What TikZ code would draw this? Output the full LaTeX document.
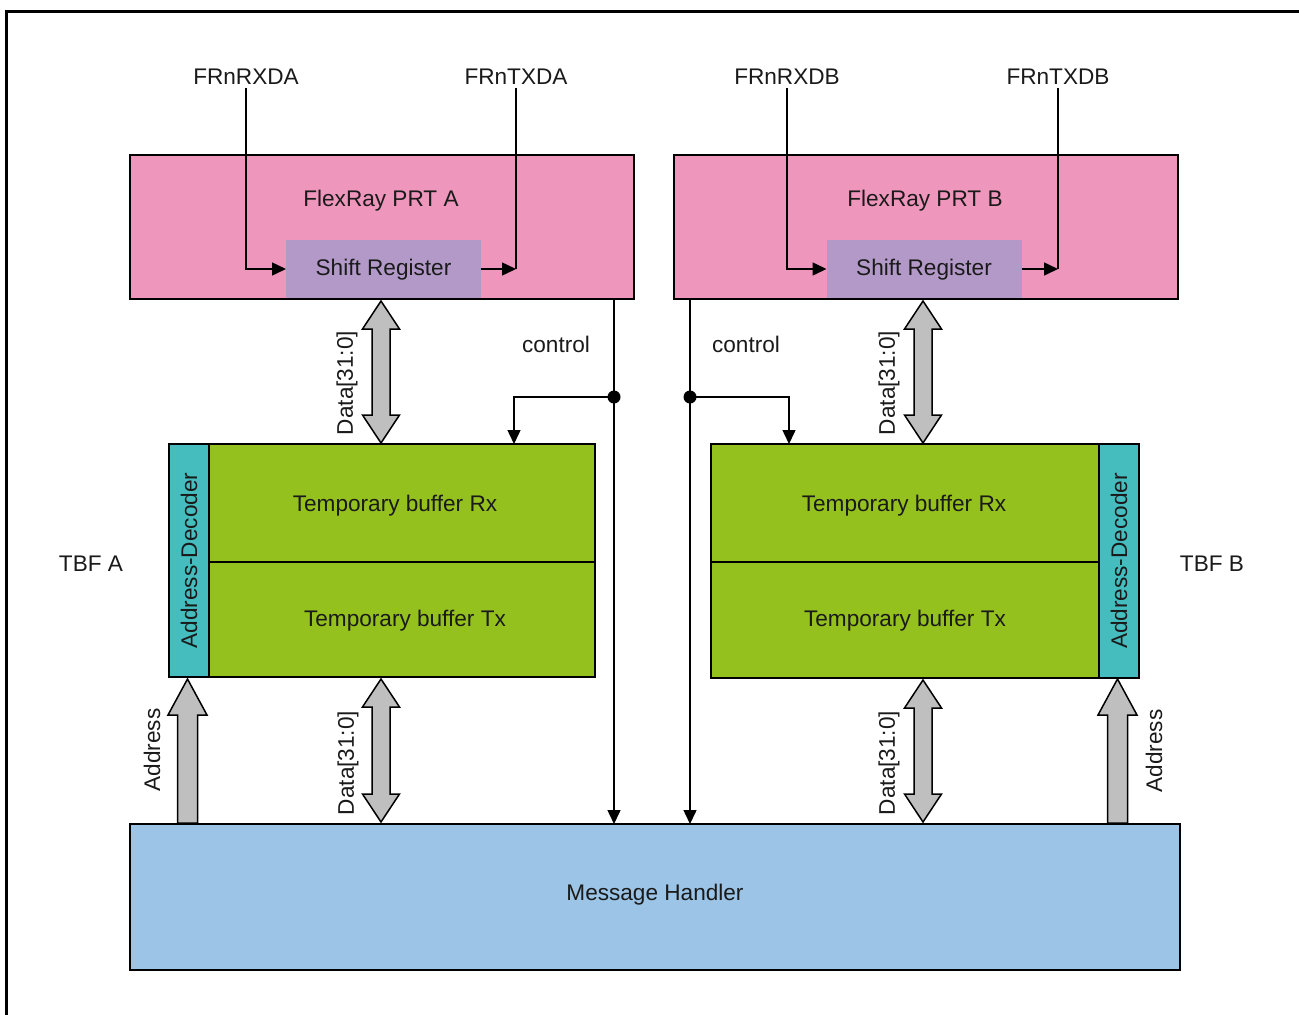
\documentclass[tikz,border=0pt]{standalone}
\usepackage{fontspec}
\setmainfont{Liberation Sans}
\usetikzlibrary{arrows.meta}
\definecolor{prtpink}{RGB}{239,150,189}
\definecolor{srpurple}{RGB}{179,153,200}
\definecolor{tbgreen}{RGB}{149,193,31}
\definecolor{decteal}{RGB}{69,189,190}
\definecolor{mhblue}{RGB}{155,196,230}
\definecolor{arrgray}{RGB}{191,191,191}
\definecolor{txtc}{RGB}{26,26,26}
\newcommand\mydblarrow[3]{%
  \draw[busarr] ({#1-9},{#2+28}) -- ({#1-18.5},{#2+28}) -- (#1,#2) -- ({#1+18.5},{#2+28}) -- ({#1+9},{#2+28})
    -- ({#1+9},{#3-28}) -- ({#1+18.5},{#3-28}) -- (#1,#3) -- ({#1-18.5},{#3-28}) -- ({#1-9},{#3-28}) -- cycle;}
\newcommand\myuparrow[3]{%
  \draw[busarr] ({#1-10},#3) -- ({#1-10},{#2+36}) -- ({#1-19.5},{#2+36}) -- (#1,#2) -- ({#1+19.5},{#2+36}) -- ({#1+10},{#2+36}) -- ({#1+10},#3) -- cycle;}
\begin{document}
\begin{tikzpicture}[x=1pt,y=-1pt,
  txt/.style={font=\fontsize{22.6}{27}\selectfont, text=txtc, inner sep=4pt},
  htxt/.style={txt, yshift=-0.5pt},
  box/.style={draw=black, line width=2.8pt, inner sep=0pt, outer sep=0pt},
  fillbox/.style={inner sep=0pt, outer sep=0pt},
  srbox/.style={fill=srpurple, minimum width=195, minimum height=58, inner sep=0pt, outer sep=0pt},
  sig/.style={line width=1.5pt, draw=black},
  tip/.style={-{Triangle[length=14pt,width=13pt]}},
  busarr/.style={fill=arrgray, draw=black, line width=1.5pt, line join=miter}
]
\useasboundingbox (0,0) rectangle (1299,1015);
% frame
\draw[line width=2.5pt] (6.5,1015) -- (6.5,11.5) -- (1299,11.5);

% PRT A
\node[fillbox, fill=prtpink, minimum width=504, minimum height=144] (prtA) at (382,227) {};
\node[srbox] (srA) at (383.5,269) {};
\node[htxt] at (srA.center) {Shift Register};
\draw[line width=2.8pt] (prtA.south west) rectangle (prtA.north east);
\node[htxt] (prtAt) at (381,200) {FlexRay PRT A};
% PRT B
\node[fillbox, fill=prtpink, minimum width=504, minimum height=144] (prtB) at (926,227) {};
\node[srbox] (srB) at (924,269) {};
\node[htxt] at (srB.center) {Shift Register};
\draw[line width=2.8pt] (prtB.south west) rectangle (prtB.north east);
\node[htxt] (prtBt) at (925,200) {FlexRay PRT B};

% pin labels
\node[htxt] (rxA) at (246,76) {FRnRXDA};
\node[htxt] (txA) at (516,76) {FRnTXDA};
\node[htxt] (rxB) at (787,76) {FRnRXDB};
\node[htxt] (txB) at (1058,76) {FRnTXDB};

\draw[sig,tip] (rxA.south) |- (srA.west);
\draw[sig,tip] (srA.east) -- (txA.south |- srA.east) coordinate (txAc);
\draw[sig] (txAc) -- (txA.south);
\draw[sig,tip] (rxB.south) |- (srB.west);
\draw[sig,tip] (srB.east) -- (txB.south |- srB.east) coordinate (txBc);
\draw[sig] (txBc) -- (txB.south);

% Temporary buffers A
\node[box, fill=tbgreen, minimum width=386, minimum height=118] (rxbufA) at (402,503) {};
\node[box, fill=tbgreen, minimum width=386, minimum height=115] (txbufA) at (402,619.5) {};
\node[box, fill=decteal, minimum width=40, minimum height=233] (decA) at (189,560.5) {};
\node[txt, rotate=90] at (decA.center) {Address-Decoder};
\node[htxt] at (395,505) {Temporary buffer Rx};
\node[htxt] at (405,620) {Temporary buffer Tx};
\node[htxt] (tbfA) at (91,563) {TBF A};

% Temporary buffers B
\node[box, fill=tbgreen, minimum width=388, minimum height=118] (rxbufB) at (905,503) {};
\node[box, fill=tbgreen, minimum width=388, minimum height=116] (txbufB) at (905,620) {};
\node[box, fill=decteal, minimum width=40, minimum height=234] (decB) at (1119,561) {};
\node[txt, rotate=90] at (decB.center) {Address-Decoder};
\node[htxt] at (904,505) {Temporary buffer Rx};
\node[htxt] at (905,620) {Temporary buffer Tx};
\node[htxt] (tbfB) at (1212,563) {TBF B};

% Message handler
\node[box, fill=mhblue, minimum width=1050, minimum height=146] (mh) at (655,897) {};
\node[htxt] at (655,894) {Message Handler};

% control lines
\coordinate (cA0) at (614,299);
\coordinate (dotA) at (614,397);
\draw[sig,tip] (cA0) -- (cA0 |- mh.north);
\fill (dotA) circle (6.5);
\draw[sig,tip] (dotA) -| (rxbufA.north -| 514,0);
\node[htxt] at (556,344) {control};

\coordinate (cB0) at (690,299);
\coordinate (dotB) at (690,397);
\draw[sig,tip] (cB0) -- (cB0 |- mh.north);
\fill (dotB) circle (6.5);
\draw[sig,tip] (dotB) -| (rxbufB.north -| 789,0);
\node[htxt] at (746,344) {control};

% data buses
\mydblarrow{381}{301}{443}
\mydblarrow{381}{679}{822}
\mydblarrow{923}{301}{443}
\mydblarrow{923}{680}{822}
\node[txt, rotate=90] at (347,383) {Data[31:0]};
\node[txt, rotate=90] at (348,763) {Data[31:0]};
\node[txt, rotate=90] at (889,383) {Data[31:0]};
\node[txt, rotate=90] at (889,763) {Data[31:0]};

% address buses
\myuparrow{187.5}{679}{823}
\myuparrow{1117.5}{679}{823}
\node[txt, rotate=90] at (152,750) {Address};
\node[txt, rotate=90] at (1154,751) {Address};
\end{tikzpicture}
\end{document}
